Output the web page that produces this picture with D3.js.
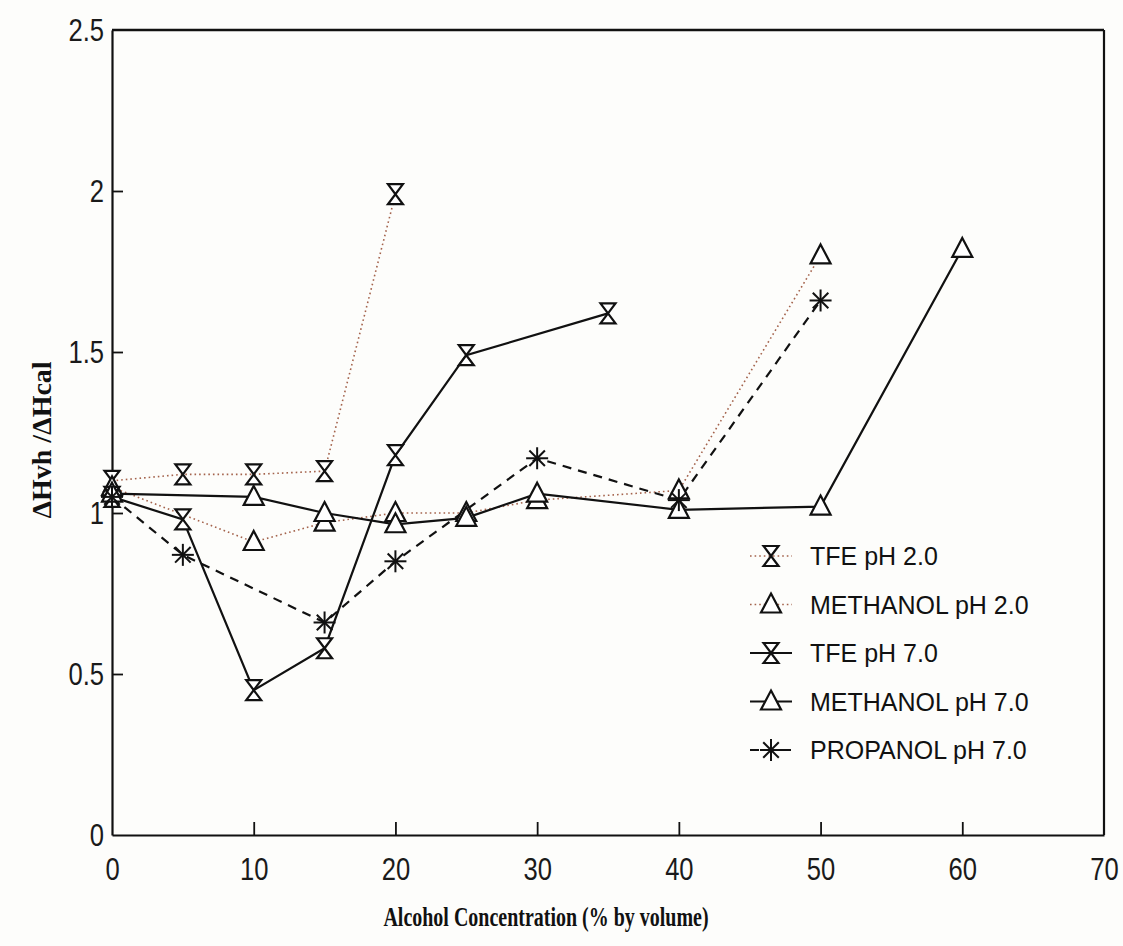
<!DOCTYPE html>
<html>
<head>
<meta charset="utf-8">
<script src="https://cdn.jsdelivr.net/npm/d3@7"></script>
<style>
  body { margin: 0; background: #fdfdfb; }
  svg { display: block; }
</style>
</head>
<body>
<svg id="chart"></svg>
<script>
// values
const tfe2X = [0, 5, 10, 15, 20]
const tfe2Y = [1.10, 1.12, 1.12, 1.13, 1.99]

const meth2X = [0, 10, 15, 20, 25, 30, 40, 50]
const meth2Y = [1.08, 0.91, 0.97, 1.00, 1.00, 1.04, 1.07, 1.80]

const tfe7X = [0, 5, 10, 15, 20, 25, 35]
const tfe7Y = [1.05, 0.98, 0.45, 0.58, 1.18, 1.49, 1.62]

const meth7X = [0, 10, 15, 20, 25, 30, 40, 50, 60]
const meth7Y = [1.06, 1.05, 1.00, 0.965, 0.985, 1.06, 1.01, 1.02, 1.82]

const propX = [0, 5, 15, 20, 30, 40, 50]
const propY = [1.05, 0.87, 0.66, 0.85, 1.17, 1.04, 1.66]

const seriesNames = ['TFE pH 2.0', 'METHANOL pH 2.0', 'TFE pH 7.0', 'METHANOL pH 7.0', 'PROPANOL pH 7.0']
const xTicks = [0, 10, 20, 30, 40, 50, 60, 70]
const yTicks = [0, 0.5, 1, 1.5, 2, 2.5]

const zip = (xs, ys) => xs.map((x, i) => ({ x: x, y: ys[i] }))

const series = [
  { name: seriesNames[0], pts: zip(tfe2X, tfe2Y), marker: 'hourglass', line: 'dotted' },
  { name: seriesNames[1], pts: zip(meth2X, meth2Y), marker: 'triangle', line: 'dotted' },
  { name: seriesNames[2], pts: zip(tfe7X, tfe7Y), marker: 'hourglass', line: 'solid' },
  { name: seriesNames[3], pts: zip(meth7X, meth7Y), marker: 'triangle', line: 'solid' },
  { name: seriesNames[4], pts: zip(propX, propY), marker: 'star', line: 'dashed' }
]

const width = 1123
const height = 946
const plotLeft = 112, plotRight = 1104, plotTop = 30, plotBottom = 835

const svg = d3.select('#chart')
  .attr('width', width)
  .attr('height', height)

const x = d3.scaleLinear().domain([0, 70]).range([plotLeft, plotRight])
const y = d3.scaleLinear().domain([0, 2.5]).range([plotBottom, plotTop])

const lineStyle = (sel, kind) => {
  if (kind === 'dotted') {
    sel.attr('stroke', '#a4634c').attr('stroke-width', 1.6).attr('stroke-dasharray', '1.6,3')
  } else if (kind === 'dashed') {
    sel.attr('stroke', '#111').attr('stroke-width', 2.2).attr('stroke-dasharray', '9,7')
  } else {
    sel.attr('stroke', '#111').attr('stroke-width', 2.2)
  }
}

const drawMarker = (g, kind) => {
  if (kind === 'hourglass') {
    g.append('path')
      .attr('d', 'M-7.5,-10 L7.5,-10 L-7.5,10 L7.5,10 Z')
      .attr('fill', '#fff').attr('stroke', '#111').attr('stroke-width', 2.2)
      .attr('stroke-linejoin', 'miter')
  } else if (kind === 'triangle') {
    g.append('path')
      .attr('d', 'M0,-11 L10,8 L-10,8 Z')
      .attr('fill', '#fff').attr('stroke', '#111').attr('stroke-width', 2.2)
  } else {
    const r = 11
    d3.range(4).forEach(i => {
      const a = i * Math.PI / 4
      g.append('line')
        .attr('x1', -r * Math.cos(a)).attr('y1', -r * Math.sin(a))
        .attr('x2', r * Math.cos(a)).attr('y2', r * Math.sin(a))
        .attr('stroke', '#111').attr('stroke-width', 2)
    })
  }
}

// axes (ticks point into the plot)
const yAxis = d3.axisLeft(y).tickValues(yTicks).tickSizeInner(-11).tickSizeOuter(0).tickPadding(10)
  .tickFormat(d => d3.format('')(d))
const xAxis = d3.axisBottom(x).tickValues(xTicks).tickSizeInner(-13).tickSizeOuter(0).tickPadding(22)

const gy = svg.append('g').attr('transform', `translate(${plotLeft},0)`).call(yAxis)
const gx = svg.append('g').attr('transform', `translate(0,${plotBottom})`).call(xAxis)

;[gx, gy].forEach(g => {
  g.select('.domain').attr('stroke', '#111').attr('stroke-width', 2.2)
  g.selectAll('.tick line').attr('stroke', '#111').attr('stroke-width', 1.8)
  g.selectAll('.tick text')
    .attr('fill', '#1a1a1a')
    .style('font-family', '"Liberation Sans", Arial, sans-serif')
    .style('font-size', '32px')
    .attr('transform', 'scale(0.8,1)')
})
gx.selectAll('.tick').filter(d => d === 0 || d === 70).select('line').remove()
gy.selectAll('.tick').filter(d => d === 0 || d === 2.5).select('line').remove()

// top and right frame
svg.append('line')
  .attr('x1', plotLeft).attr('x2', plotRight).attr('y1', plotTop).attr('y2', plotTop)
  .attr('stroke', '#111').attr('stroke-width', 2.4)
svg.append('line')
  .attr('x1', plotRight).attr('x2', plotRight).attr('y1', plotTop).attr('y2', plotBottom)
  .attr('stroke', '#111').attr('stroke-width', 2.2)

// series
const line = d3.line().x(d => x(d.x)).y(d => y(d.y))

series.forEach(s => {
  svg.append('path')
    .datum(s.pts)
    .attr('d', line)
    .attr('fill', 'none')
    .call(lineStyle, s.line)
})

series.forEach(s => {
  svg.selectAll(null)
    .data(s.pts)
    .enter()
    .append('g')
    .attr('transform', d => `translate(${x(d.x)},${y(d.y)})`)
    .each(function () { drawMarker(d3.select(this), s.marker) })
})

// legend
const legend = svg.append('g').attr('transform', 'translate(750,556)')
const rows = legend.selectAll('g')
  .data(series)
  .enter()
  .append('g')
  .attr('transform', (d, i) => `translate(0,${i * 48.5})`)

rows.append('line')
  .attr('x1', 0).attr('x2', 42).attr('y1', 0).attr('y2', 0)
  .each(function (d) { d3.select(this).call(lineStyle, d.line) })
rows.append('g')
  .attr('transform', 'translate(21,0)')
  .each(function (d) { drawMarker(d3.select(this), d.marker) })
rows.append('text')
  .attr('x', 60)
  .attr('dy', '0.36em')
  .style('font-family', '"Liberation Sans", Arial, sans-serif')
  .style('font-size', '25px')
  .attr('fill', '#111')
  .text(d => d.name)

// axis titles
svg.append('text')
  .attr('transform', 'translate(546,926) scale(0.74,1)')
  .attr('text-anchor', 'middle')
  .style('font-family', '"Liberation Serif", "Times New Roman", serif')
  .style('font-weight', 'bold')
  .style('font-size', '27px')
  .attr('fill', '#111')
  .text('Alcohol Concentration (% by volume)')

svg.append('text')
  .attr('transform', 'translate(51,440) rotate(-90)')
  .attr('text-anchor', 'middle')
  .style('font-family', '"Liberation Serif", "Times New Roman", serif')
  .style('font-weight', 'bold')
  .style('font-size', '28px')
  .attr('fill', '#111')
  .text('ΔHvh /ΔHcal')
</script>
</body>
</html>
